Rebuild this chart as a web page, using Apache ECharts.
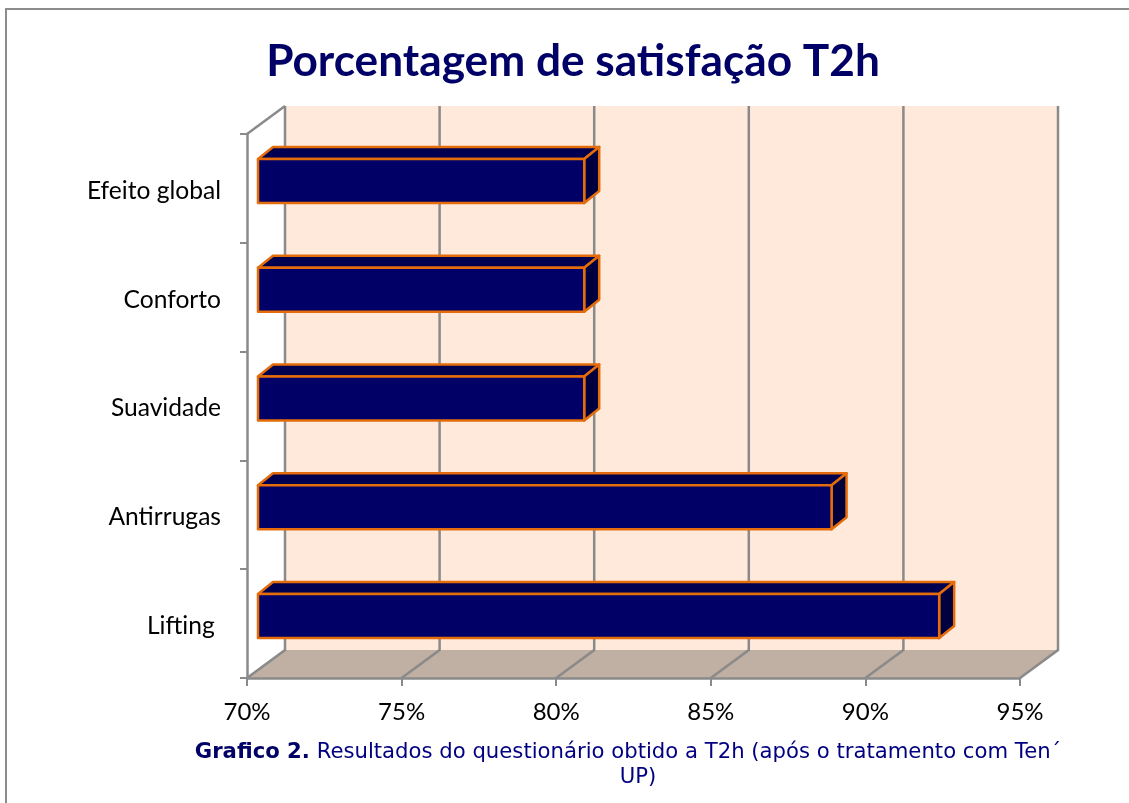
<!DOCTYPE html>
<html>
<head>
<meta charset="utf-8">
<style>html,body{margin:0;padding:0;background:#fff}#c{width:1129px;height:803px}</style>
<script src="https://cdn.jsdelivr.net/npm/echarts@6/dist/echarts.min.js"></script>
</head>
<body>
<div id="c"></div>
<script>
const categories = ['Lifting ', 'Antirrugas', 'Suavidade', 'Conforto', 'Efeito global'];
const satisfaction = [92.03, 88.55, 80.55, 80.55, 80.55];
const xTicks = [70, 75, 80, 85, 90, 95];
const titleText = 'Porcentagem de satisfação T2h';
const captionBold = 'Grafico 2.';
const captionLine1 = ' Resultados do questionário obtido a T2h (após o tratamento com Ten´';
const captionLine2 = 'UP)';

const DX = 38, DY = 28;            // depth of the chart box
const BX = 15, BY = 12;            // depth of a bar
const FX = 11, FY = 7.5;           // front face inset of the bars
const BH = 44;                     // front face height
const GREY = '#8a8a8a';

function renderBackdrop(params, api) {
  const r = params.coordSys;
  const bottom = r.y + r.height, right = r.x + r.width;
  return { type: 'group', children: [
    { type: 'polygon', shape: { points: [[r.x + DX, r.y - DY], [right + DX, r.y - DY], [right + DX, bottom - DY], [r.x + DX, bottom - DY]] },
      style: { fill: '#fee9db' } },
    { type: 'polygon', shape: { points: [[r.x, bottom], [right, bottom], [right + DX, bottom - DY], [r.x + DX, bottom - DY]] },
      style: { fill: '#bfb0a3' } },
    { type: 'polyline', shape: { points: [[r.x, r.y], [r.x + DX, r.y - DY]] },
      style: { stroke: GREY, lineWidth: 2.5, fill: 'none' } }
  ] };
}
function renderGrid(params, api) {
  const x = api.coord([api.value(0), 0])[0];
  const r = params.coordSys;
  const bottom = r.y + r.height;
  return { type: 'polyline', shape: { points: [[x, bottom], [x + DX, bottom - DY], [x + DX, r.y - DY]] },
    style: { stroke: GREY, lineWidth: 2.5, fill: 'none' } };
}
function renderBar(params, api) {
  const end = api.coord([api.value(0), api.value(1)]);
  const x0 = params.coordSys.x + FX, x1 = end[0] + FX;
  const y0 = end[1] - FY - BH / 2, y1 = y0 + BH;
  const edge = { stroke: '#e46c0a', lineWidth: 2.5, lineJoin: 'round' };
  return { type: 'group', children: [
    { type: 'polygon', shape: { points: [[x0, y0], [x0 + BX, y0 - BY], [x1 + BX, y0 - BY], [x1, y0]] },
      style: Object.assign({ fill: '#000050' }, edge) },
    { type: 'polygon', shape: { points: [[x1, y0], [x1 + BX, y0 - BY], [x1 + BX, y1 - BY], [x1, y1]] },
      style: Object.assign({ fill: '#00003f' }, edge) },
    { type: 'rect', shape: { x: x0, y: y0, width: x1 - x0, height: BH },
      style: Object.assign({ fill: '#000066' }, edge) }
  ] };
}

const chart = echarts.init(document.getElementById('c'), null, { renderer: 'canvas' });
chart.setOption({
  animation: false,
  backgroundColor: '#ffffff',
  title: { text: titleText, left: 568, top: 35, textAlign: 'center',
    textStyle: { fontFamily: 'Lato', fontWeight: 'bold', fontSize: 44.2, color: '#000066' } },
  grid: { left: 247, right: 109, top: 134, bottom: 125 },
  xAxis: { type: 'value', min: 70, max: 95, interval: 5, z: 5,
    axisLine: { show: true, lineStyle: { color: GREY, width: 2.5 } },
    axisTick: { show: true, length: 8, lineStyle: { color: GREY, width: 2 } },
    splitLine: { show: false },
    axisLabel: { formatter: '{value}%', margin: 22, fontFamily: 'Lato', fontSize: 24, color: '#000' } },
  yAxis: { type: 'category', data: categories, z: 5,
    axisLine: { show: true, lineStyle: { color: GREY, width: 2.5 } },
    axisTick: { show: true, length: 7, lineStyle: { color: GREY, width: 2 } },
    axisLabel: { margin: 26, formatter: v => '{l|' + v + '}',
      rich: { l: { padding: [5, 0, 0, 0], fontFamily: 'Lato', fontSize: 24.6, color: '#000' } } } },
  graphic: [
    { type: 'polyline', silent: true, shape: { points: [[6, 803], [6, 9], [1129, 9]] },
      style: { stroke: '#8c8c8c', lineWidth: 2, fill: 'none' } },
    { type: 'text', x: 628, y: 740, silent: true,
      style: { text: '{b|' + captionBold + '}{n|' + captionLine1 + '}',
        align: 'center', verticalAlign: 'top',
        rich: {
          b: { fontFamily: 'DejaVu Sans', fontWeight: 'bold', fontSize: 21.2, lineHeight: 25, fill: '#000066' },
          n: { fontFamily: 'DejaVu Sans', fontSize: 21.2, lineHeight: 25, fill: '#000080' }
        } } },
    { type: 'text', x: 638, y: 765, silent: true,
      style: { text: captionLine2, align: 'center', verticalAlign: 'top',
        fontFamily: 'DejaVu Sans', fontSize: 21.2, lineHeight: 25, fill: '#000080' } }
  ],
  series: [
    { type: 'custom', name: 'backdrop', z: 1, silent: true, clip: false, renderItem: renderBackdrop, data: [[xTicks[0], 0]], encode: { x: 0, y: 1 } },
    { type: 'custom', name: 'grid', z: 2, silent: true, clip: false, renderItem: renderGrid, data: xTicks.map(t => [t, 0]), encode: { x: 0, y: 1 } },
    { type: 'custom', name: 'Satisfação', z: 3, clip: false, renderItem: renderBar, data: satisfaction.map((v, i) => [v, i]), encode: { x: 0, y: 1 } }
  ]
});
</script>
</body>
</html>
